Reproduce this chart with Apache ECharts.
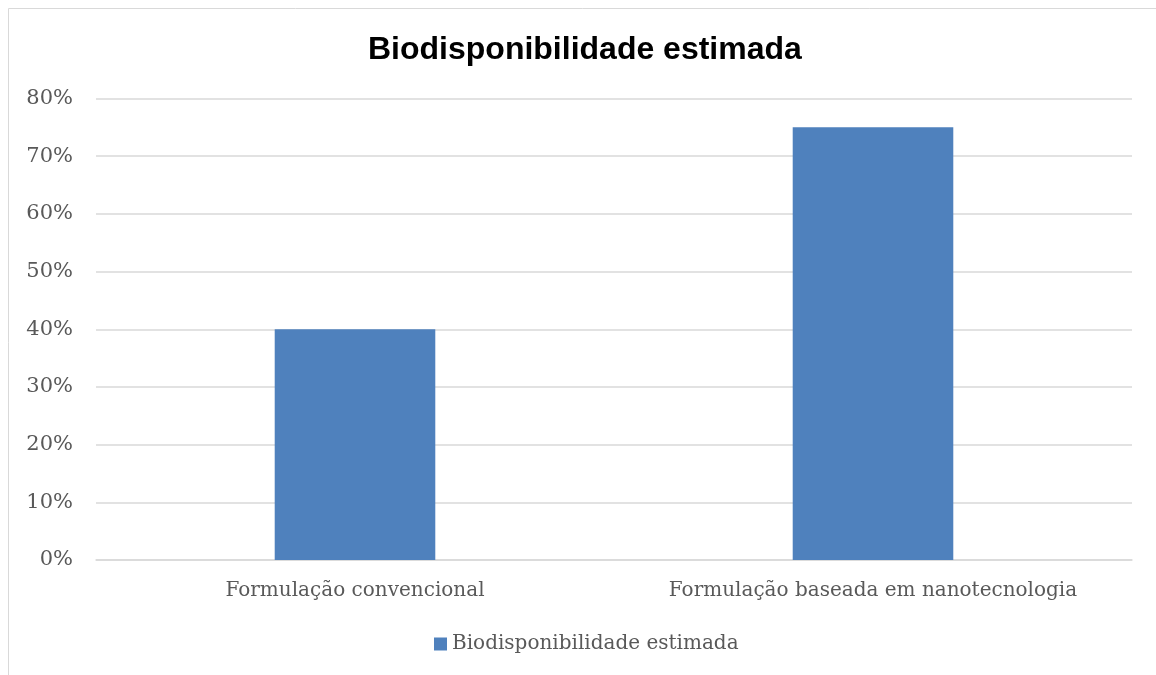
<!DOCTYPE html>
<html>
<head>
<meta charset="utf-8">
<script src="https://cdn.jsdelivr.net/npm/echarts@6/dist/echarts.min.js"></script>
<style>
  html, body { margin: 0; padding: 0; background: #fff; }
  #chart { width: 1156px; height: 675px; }
</style>
</head>
<body>
<div id="chart"></div>
<script>
  // dados
  var categorias = ['Formulação convencional', 'Formulação baseada em nanotecnologia']
  var biodisponibilidade = [40, 75]
  var nomeSerie = 'Biodisponibilidade estimada'

  var chart = echarts.init(document.getElementById('chart'))
  var serif = 'DejaVu Serif'
  var option = {
    animation: false,
    title: {
      text: 'Biodisponibilidade estimada',
      left: 363,
      top: 29,
      textStyle: {
        fontFamily: 'Liberation Sans',
        fontWeight: 'bold',
        fontSize: 32,
        color: '#000'
      }
    },
    graphic: [
      {
        type: 'rect',
        shape: { x: 8.5, y: 8.5, width: 1200, height: 700 },
        style: { fill: 'none', stroke: '#d9d9d9', lineWidth: 1 },
        silent: true
      }
    ],
    legend: {
      bottom: 16,
      left: 429,
      itemWidth: 13,
      itemHeight: 13,
      itemGap: 6,
      icon: 'rect',
      textStyle: { fontFamily: serif, fontSize: 20, color: '#595959' },
      data: [nomeSerie]
    },
    grid: {
      left: 96,
      right: 24,
      top: 98.5,
      bottom: 115
    },
    xAxis: {
      type: 'category',
      data: categorias,
      axisLine: { lineStyle: { color: '#d9d9d9', width: 1.5 } },
      axisTick: { show: false },
      axisLabel: {
        interval: 0,
        margin: 21,
        fontFamily: serif,
        fontSize: 20,
        color: '#595959'
      }
    },
    yAxis: {
      type: 'value',
      min: 0,
      max: 80,
      interval: 10,
      axisLine: { show: false },
      axisTick: { show: false },
      splitLine: { lineStyle: { color: '#d9d9d9', width: 1.5 } },
      axisLabel: {
        margin: 23,
        fontFamily: serif,
        fontSize: 21,
        color: '#595959',
        padding: [3, 0, 0, 0],
        formatter: function(v) {
          return v + '%'
        }
      }
    },
    series: [
      {
        name: nomeSerie,
        type: 'bar',
        barWidth: '31%',
        itemStyle: { color: '#4F81BD' },
        data: biodisponibilidade
      }
    ]
  }
  chart.setOption(option)
</script>
</body>
</html>
